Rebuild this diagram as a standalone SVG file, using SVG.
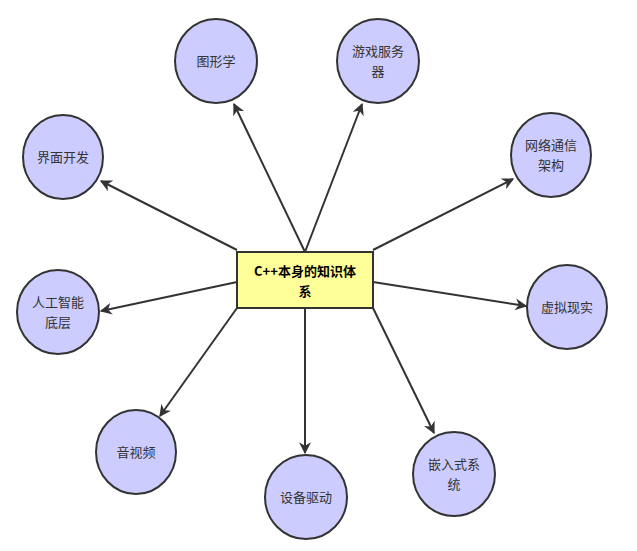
<svg xmlns="http://www.w3.org/2000/svg" width="637" height="551" viewBox="0 0 637 551">
<style>
.n ellipse{fill:#ccccff;stroke:#333;stroke-width:2}
.n text{font-family:"Noto Sans CJK SC","Liberation Sans",sans-serif;font-size:13px;fill:#333;text-anchor:middle}
.c line{stroke:#333;stroke-width:2;marker-end:url(#a)}
</style>
<defs><marker id="a" viewBox="0 0 10 10" refX="9" refY="5" markerWidth="6" markerHeight="6" orient="auto" markerUnits="strokeWidth"><path d="M0,0L10,5L0,10L3,5Z" fill="#333"/></marker></defs>
<rect width="637" height="551" fill="#fff"/>
<g class="c">
<line x1="305" y1="252" x2="234" y2="104"/>
<line x1="305" y1="252" x2="362" y2="104"/>
<line x1="237" y1="250" x2="101" y2="181"/>
<line x1="237" y1="282" x2="101" y2="311"/>
<line x1="373" y1="250" x2="513" y2="179"/>
<line x1="373" y1="282" x2="526" y2="306"/>
<line x1="237" y1="308" x2="160" y2="416"/>
<line x1="305" y1="308" x2="305" y2="453"/>
<line x1="373" y1="308" x2="434" y2="433"/>
</g>
<g id="center"><rect x="237" y="252" width="136" height="56" fill="#ffff99" stroke="#333" stroke-width="2"/>
<text x="305" y="276" font-family="'Noto Sans CJK SC','Liberation Sans',sans-serif" font-size="13" font-weight="bold" text-anchor="middle" fill="#000">C++本身的知识体</text>
<text x="305" y="296" font-family="'Noto Sans CJK SC','Liberation Sans',sans-serif" font-size="13" font-weight="bold" text-anchor="middle" fill="#000">系</text></g>
<g id="n1" class="n"><ellipse cx="216" cy="61" rx="41" ry="42"/><text x="216" y="66">图形学</text></g>
<g id="n2" class="n"><ellipse cx="378" cy="61" rx="41" ry="42"/><text x="378" y="56">游戏服务</text><text x="378" y="76">器</text></g>
<g id="n3" class="n"><ellipse cx="63" cy="157" rx="40" ry="42"/><text x="63" y="162">界面开发</text></g>
<g id="n4" class="n"><ellipse cx="58" cy="312" rx="41" ry="42"/><text x="58" y="307">人工智能</text><text x="58" y="327">底层</text></g>
<g id="n5" class="n"><ellipse cx="551" cy="155" rx="40" ry="42"/><text x="551" y="150">网络通信</text><text x="551" y="170">架构</text></g>
<g id="n6" class="n"><ellipse cx="567" cy="307" rx="40" ry="42"/><text x="567" y="312">虚拟现实</text></g>
<g id="n7" class="n"><ellipse cx="136" cy="452" rx="40" ry="42"/><text x="136" y="457">音视频</text></g>
<g id="n8" class="n"><ellipse cx="306" cy="497" rx="41" ry="42"/><text x="306" y="502">设备驱动</text></g>
<g id="n9" class="n"><ellipse cx="454" cy="474" rx="41" ry="42"/><text x="454" y="469">嵌入式系</text><text x="454" y="489">统</text></g>
</svg>
